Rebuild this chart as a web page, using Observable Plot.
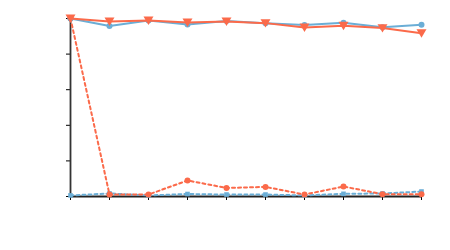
<!DOCTYPE html>
<html><head><meta charset="utf-8">
<script src="https://cdn.jsdelivr.net/npm/d3@7"></script>
<script src="https://cdn.jsdelivr.net/npm/@observablehq/plot@0.6"></script>
<style>body{margin:0;background:#fff}</style>
</head><body><div id="chart"></div>
<script>
const steps = [0,1,2,3,4,5,6,7,8,9];
const blueSolid = [1.0,0.958,0.989,0.966,0.986,0.974,0.963,0.976,0.951,0.965];
const orangeSolid = [1.0,0.983,0.989,0.978,0.983,0.974,0.949,0.959,0.946,0.917];
const orangeDotted = [1.0,0.011,0.011,0.09,0.048,0.054,0.011,0.056,0.013,0.013];
const blueDotted = [0.006,0.017,0.006,0.014,0.011,0.011,0.006,0.015,0.017,0.028];
const yTicks = [0,0.2,0.4,0.6,0.8,1.0];

const blue = "#6baed6", orange = "#fb6a4a";
const tri = {draw(ctx, size){const r=Math.sqrt(size/1.3);ctx.moveTo(-r,-r*0.8);ctx.lineTo(r,-r*0.8);ctx.lineTo(0,r*0.9);ctx.closePath();}};
const mk = (vals) => steps.map((s,i)=>({x:s,y:vals[i]}));

const chart = Plot.plot({
  width:450, height:250,
  marginLeft:70, marginRight:29, marginTop:18, marginBottom:54,
  x:{domain:[0,9], ticks:steps, tickFormat:()=>"", tickSize:4, label:null},
  y:{domain:[0,1], ticks:yTicks, tickFormat:()=>"", tickSize:4, label:null},
  marks:[
    Plot.ruleX([0],{stroke:"#333",strokeWidth:1.8}),
    Plot.ruleY([0],{stroke:"#222",strokeWidth:1.8}),
    Plot.line(mk(blueDotted),{x:"x",y:"y",stroke:blue,strokeWidth:2,strokeDasharray:"3,3",ariaDescription:"dotted"}),
    Plot.dot(mk(blueDotted),{x:"x",y:"y",symbol:"square",fill:blue,r:2.6}),
    Plot.line(mk(orangeDotted),{x:"x",y:"y",stroke:orange,strokeWidth:2,strokeDasharray:"3,3",ariaDescription:"dotted"}),
    Plot.dot(mk(orangeDotted),{x:"x",y:"y",fill:orange,r:3}),
    Plot.line(mk(blueSolid),{x:"x",y:"y",stroke:blue,strokeWidth:2}),
    Plot.dot(mk(blueSolid),{x:"x",y:"y",fill:blue,r:3}),
    Plot.line(mk(orangeSolid),{x:"x",y:"y",stroke:orange,strokeWidth:2}),
    Plot.dot(mk(orangeSolid),{x:"x",y:"y",symbol:tri,fill:orange,r:3.2})
  ]
});
d3.select(chart).selectAll('[aria-description="dotted"], [aria-description="dotted"] path')
  .attr("stroke-dasharray","3,3");
document.getElementById("chart").appendChild(chart);
</script></body></html>
